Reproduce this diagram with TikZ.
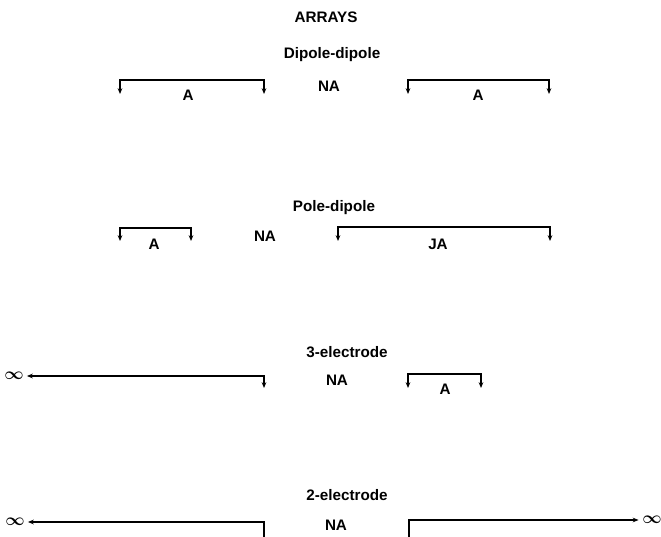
\documentclass[tikz,border=0pt]{standalone}
\usepackage{fontspec}
\setmainfont{Liberation Sans}
\usetikzlibrary{arrows.meta}

\tikzset{
	lbl/.style={font=\fontsize{13}{15}\selectfont\bfseries, inner sep=0pt},
	inf/.style={font=\fontsize{15}{17}\selectfont\boldmath, inner sep=0pt},
	span/.style={line width=1.1pt, {Stealth[length=5pt,width=4pt]}-{Stealth[length=5pt,width=4pt]}},
}

\begin{document}
\begin{tikzpicture}[x=0.03cm, y=-0.03cm]
		\useasboundingbox (0,0) rectangle (661,537);
		
		% Heading
		\node[lbl] (title) at (326,17) {ARRAYS};
		
		% Dipole-dipole
		\node[lbl] (dd) at (332,55) {Dipole-dipole};
		\coordinate (dd1) at (120,94);
		\coordinate (dd2) at (264,94);
		\coordinate (dd3) at (408,94);
		\coordinate (dd4) at (549,94);
		\draw[span] (dd1) -- ++(0,-14) -| (dd2);
		\draw[span] (dd3) -- ++(0,-14) -| (dd4);
		\begin{scope}[every node/.style={lbl}]
			\node (ddA) at (188,95) {A};
			\node (ddNA) at (329,86) {NA};
			\node (ddB) at (478,95) {A};
		\end{scope}
		
		% Pole-dipole
		\node[lbl] (pd) at (334,208) {Pole-dipole};
		\coordinate (pd1) at (120,241);
		\coordinate (pd2) at (191,241);
		\coordinate (pd3) at (338,241);
		\coordinate (pd4) at (550,241);
		\draw[span] (pd1) -- ++(0,-13) -| (pd2);
		\draw[span] (pd3) -- ++(0,-14) -| (pd4);
		\begin{scope}[every node/.style={lbl}]
			\node (pdA) at (154,244) {A};
			\node (pdNA) at (265,236) {NA};
			\node (pdJA) at (438,244) {JA};
		\end{scope}
		
		% 3-electrode
		\node[lbl] (e3) at (347,352) {3-electrode};
		\node[inf] (inf3) at (14,376) {$\infty$};
		\coordinate (e3a) at (264,388);
		\coordinate (e3b) at (408,388);
		\coordinate (e3c) at (481,388);
		\draw[span] (inf3.east) ++(3,0) -| (e3a);
		\draw[span] (e3b) -- ++(0,-14) -| (e3c);
		\begin{scope}[every node/.style={lbl}]
			\node (e3NA) at (337,380) {NA};
			\node (e3A) at (445,389) {A};
		\end{scope}
		
		% 2-electrode
		\node[lbl] (e2) at (347,495) {2-electrode};
		\node[inf] (inf2l) at (15,522) {$\infty$};
		\node[inf] (inf2r) at (652,520) {$\infty$};
		\coordinate (e2a) at (264,545);
		\coordinate (e2b) at (409,545);
		\draw[span] (inf2l.east) ++(3,0) -| (e2a);
		\draw[span] (e2b) |- ([xshift=-3]inf2r.west);
		\node[lbl] (e2NA) at (336,525) {NA};
\end{tikzpicture}
\end{document}
